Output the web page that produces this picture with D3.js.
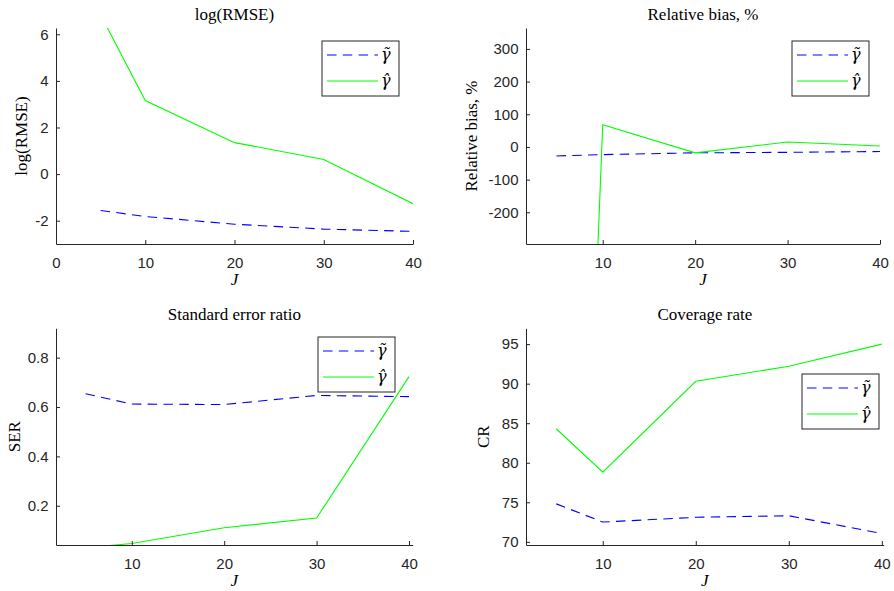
<!DOCTYPE html>
<html>
<head>
<meta charset="utf-8">
<script src="https://cdn.jsdelivr.net/npm/d3@7"></script>
<style>
  body { margin: 0; background: #fff; }
</style>
</head>
<body>
<svg id="chart" width="894" height="591"></svg>
<script>
// J values shared by every panel
var J = [5, 10, 20, 30, 40];

// gamma tilde (blue dashed) and gamma hat (green solid)
var rmseTilde = [-1.56, -1.82, -2.15, -2.36, -2.46];
var rmseHat   = [6.83, 3.16, 1.35, 0.63, -1.27];
var biasTilde = [-27.5, -23.5, -18, -16.5, -14];
var biasHat   = [-3500, 68, -18, 15, 3];
var serTilde  = [0.654, 0.612, 0.61, 0.647, 0.642];
var serHat    = [0.03, 0.047, 0.111, 0.15, 0.723];
var crTilde   = [74.8, 72.5, 73.1, 73.3, 71.05];
var crHat     = [84.3, 78.8, 90.3, 92.2, 95.0];

var titles = ["log(RMSE)", "Relative bias, %", "Standard error ratio", "Coverage rate"];
var yLabels = ["log(RMSE)", "Relative bias, %", "SER", "CR"];
var legendNames = ["\u03B3\u0303", "\u03B3\u0302"];
var xTicks1 = [0, 10, 20, 30, 40];
var xTicks = [10, 20, 30, 40];
var yTicksRmse = [-2, 0, 2, 4, 6];
var yTicksBias = [-200, -100, 0, 100, 200, 300];
var yTicksSer = [0.2, 0.4, 0.6, 0.8];
var yTicksCr = [70, 75, 80, 85, 90, 95];

var svg = d3.select("#chart");
var axisColor = "#262626";
var dash = "9.5,6.3";

var panels = [
  {title: titles[0], ylab: yLabels[0], tilde: rmseTilde, hat: rmseHat,
   xdom: [0, 40], ydom: [-3, 6.27], xt: xTicks1, yt: yTicksRmse,
   l: 56, r: 413, t: 28, b: 244, legX: 322, legY: 41, ylabX: 21},
  {title: titles[1], ylab: yLabels[1], tilde: biasTilde, hat: biasHat,
   xdom: [1.7, 40], ydom: [-297, 364], xt: xTicks, yt: yTicksBias,
   l: 526, r: 880, t: 28, b: 244, legX: 792, legY: 41, ylabX: 471},
  {title: titles[2], ylab: yLabels[2], tilde: serTilde, hat: serHat,
   xdom: [1.8, 40.4], ydom: [0.041, 0.919], xt: xTicks, yt: yTicksSer,
   l: 56, r: 412.7, t: 328.3, b: 545, legX: 318, legY: 337, ylabX: 14},
  {title: titles[3], ylab: yLabels[3], tilde: crTilde, hat: crHat,
   xdom: [1.75, 40.2], ydom: [69.6, 97], xt: xTicks, yt: yTicksCr,
   l: 526, r: 883.7, t: 328.3, b: 545, legX: 802, legY: 374, ylabX: 483}
];

panels.forEach(function(p, i) {
  var x = d3.scaleLinear().domain(p.xdom).range([p.l, p.r]);
  var y = d3.scaleLinear().domain(p.ydom).range([p.b, p.t]);
  var g = svg.append("g");

  g.append("clipPath").attr("id", "clip" + i)
    .append("rect")
      .attr("x", p.l).attr("y", p.t)
      .attr("width", p.r - p.l).attr("height", p.b - p.t);

  var line = d3.line()
      .x(function(d, k) { return x(J[k]); })
      .y(function(d) { return y(d); });

  g.append("path")
      .datum(p.tilde)
      .attr("clip-path", "url(#clip" + i + ")")
      .attr("fill", "none")
      .attr("stroke", "#0000ff")
      .attr("stroke-width", 1.1)
      .attr("stroke-dasharray", dash)
      .attr("d", line);

  g.append("path")
      .datum(p.hat)
      .attr("clip-path", "url(#clip" + i + ")")
      .attr("fill", "none")
      .attr("stroke", "#00ff00")
      .attr("stroke-width", 1.1)
      .attr("d", line);

  g.append("g")
      .attr("transform", "translate(0," + p.b + ")")
      .call(d3.axisBottom(x).tickValues(p.xt).tickSize(-4).tickSizeOuter(0).tickPadding(13)
        .tickFormat(function(d) { return String(d); }))
      .call(styleAxis);

  g.append("g")
      .attr("transform", "translate(" + p.l + ",0)")
      .call(d3.axisLeft(y).tickValues(p.yt).tickSize(-4).tickSizeOuter(0).tickPadding(7.5)
        .tickFormat(function(d) { return String(d); }))
      .call(styleAxis);

  g.append("text")
      .attr("x", (p.l + p.r) / 2)
      .attr("y", p.t - 8)
      .attr("text-anchor", "middle")
      .attr("font-family", "Liberation Serif, serif")
      .attr("font-size", 17)
      .attr("fill", "#000")
      .text(p.title);

  g.append("text")
      .attr("transform", "translate(" + p.ylabX + "," + ((p.t + p.b) / 2) + ") rotate(-90)")
      .attr("dy", "0.35em")
      .attr("text-anchor", "middle")
      .attr("font-family", "Liberation Serif, serif")
      .attr("font-size", 17)
      .attr("fill", "#000")
      .text(p.ylab);

  g.append("text")
      .attr("x", (p.l + p.r) / 2)
      .attr("y", p.b + 41)
      .attr("text-anchor", "middle")
      .attr("font-family", "Liberation Serif, serif")
      .attr("font-style", "italic")
      .attr("font-size", 17)
      .attr("fill", "#000")
      .text("J");

  drawLegend(g, p.legX, p.legY);
});

function styleAxis(g) {
  g.select(".domain").attr("stroke", axisColor).attr("stroke-width", 1);
  g.selectAll(".tick line").attr("stroke", axisColor).attr("stroke-width", 1);
  g.selectAll(".tick text")
      .attr("fill", axisColor)
      .attr("font-family", "Liberation Sans, Arial, sans-serif")
      .attr("font-size", 15);
}

function drawLegend(g, lx, ly) {
  var lg = g.append("g").attr("transform", "translate(" + lx + "," + ly + ")");
  lg.append("rect")
      .attr("width", 77).attr("height", 55)
      .attr("fill", "#fff")
      .attr("stroke", axisColor)
      .attr("stroke-width", 1);
  lg.append("line")
      .attr("x1", 5).attr("x2", 56).attr("y1", 14).attr("y2", 14)
      .attr("stroke", "#0000ff").attr("stroke-width", 1.1)
      .attr("stroke-dasharray", dash);
  lg.append("line")
      .attr("x1", 5).attr("x2", 56).attr("y1", 40).attr("y2", 40)
      .attr("stroke", "#00ff00").attr("stroke-width", 1.1);
  lg.selectAll("text.name")
    .data(legendNames)
    .enter().append("text")
      .attr("class", "name")
      .attr("x", 59)
      .attr("y", function(d, k) { return k ? 44.5 : 18.5; })
      .attr("font-family", "DejaVu Serif, serif")
      .attr("font-style", "italic")
      .attr("font-size", 16)
      .attr("fill", "#000")
      .text(function(d) { return d; });
}
</script>
</body>
</html>
